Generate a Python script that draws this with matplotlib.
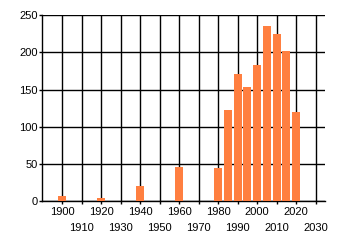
import numpy as np
import matplotlib.pyplot as plt

# data
years = [1900, 1920, 1940, 1960, 1980, 1985, 1990, 1995, 2000, 2005, 2010, 2015, 2020]
counts = [7, 4, 20, 46, 44, 122, 171, 153, 183, 235, 225, 202, 120]
major_years = list(range(1900, 2031, 20))
minor_years = list(range(1910, 2031, 20))
y_ticks = [0, 50, 100, 150, 200, 250]

plt.rcParams['font.family'] = ['Liberation Sans', 'DejaVu Sans']
plt.rcParams['font.size'] = 8

fig = plt.figure(figsize=(3.4, 2.45), dpi=100)
ax = fig.add_axes([0.1235, 0.1796, 0.956 - 0.1235, 0.9376 - 0.1796])

ax.bar(years, counts, width=4.1, color='#FF7F40', zorder=3)

ax.set_xlim(1889.6, 2034.8)
ax.set_ylim(0, 250)
ax.set_yticks(y_ticks)
ax.set_xticks(major_years)
ax.set_xticks(minor_years, minor=True)
ax.set_xticklabels([str(y) for y in major_years])
ax.set_xticklabels([str(y) for y in minor_years], minor=True)

ax.grid(True, which='both', color='black', linewidth=1.0, zorder=0)
ax.tick_params(axis='x', which='major', length=2.5, width=1, pad=2, color='black')
ax.tick_params(axis='x', which='minor', length=2.5, width=1, pad=13, color='black')
ax.tick_params(axis='y', length=2, width=1, pad=1, color='black')

for s in ['top', 'right']:
    ax.spines[s].set_visible(False)
for s in ['left', 'bottom']:
    ax.spines[s].set_color('black')
    ax.spines[s].set_linewidth(1.0)

fig.savefig('out.png', dpi=100)
